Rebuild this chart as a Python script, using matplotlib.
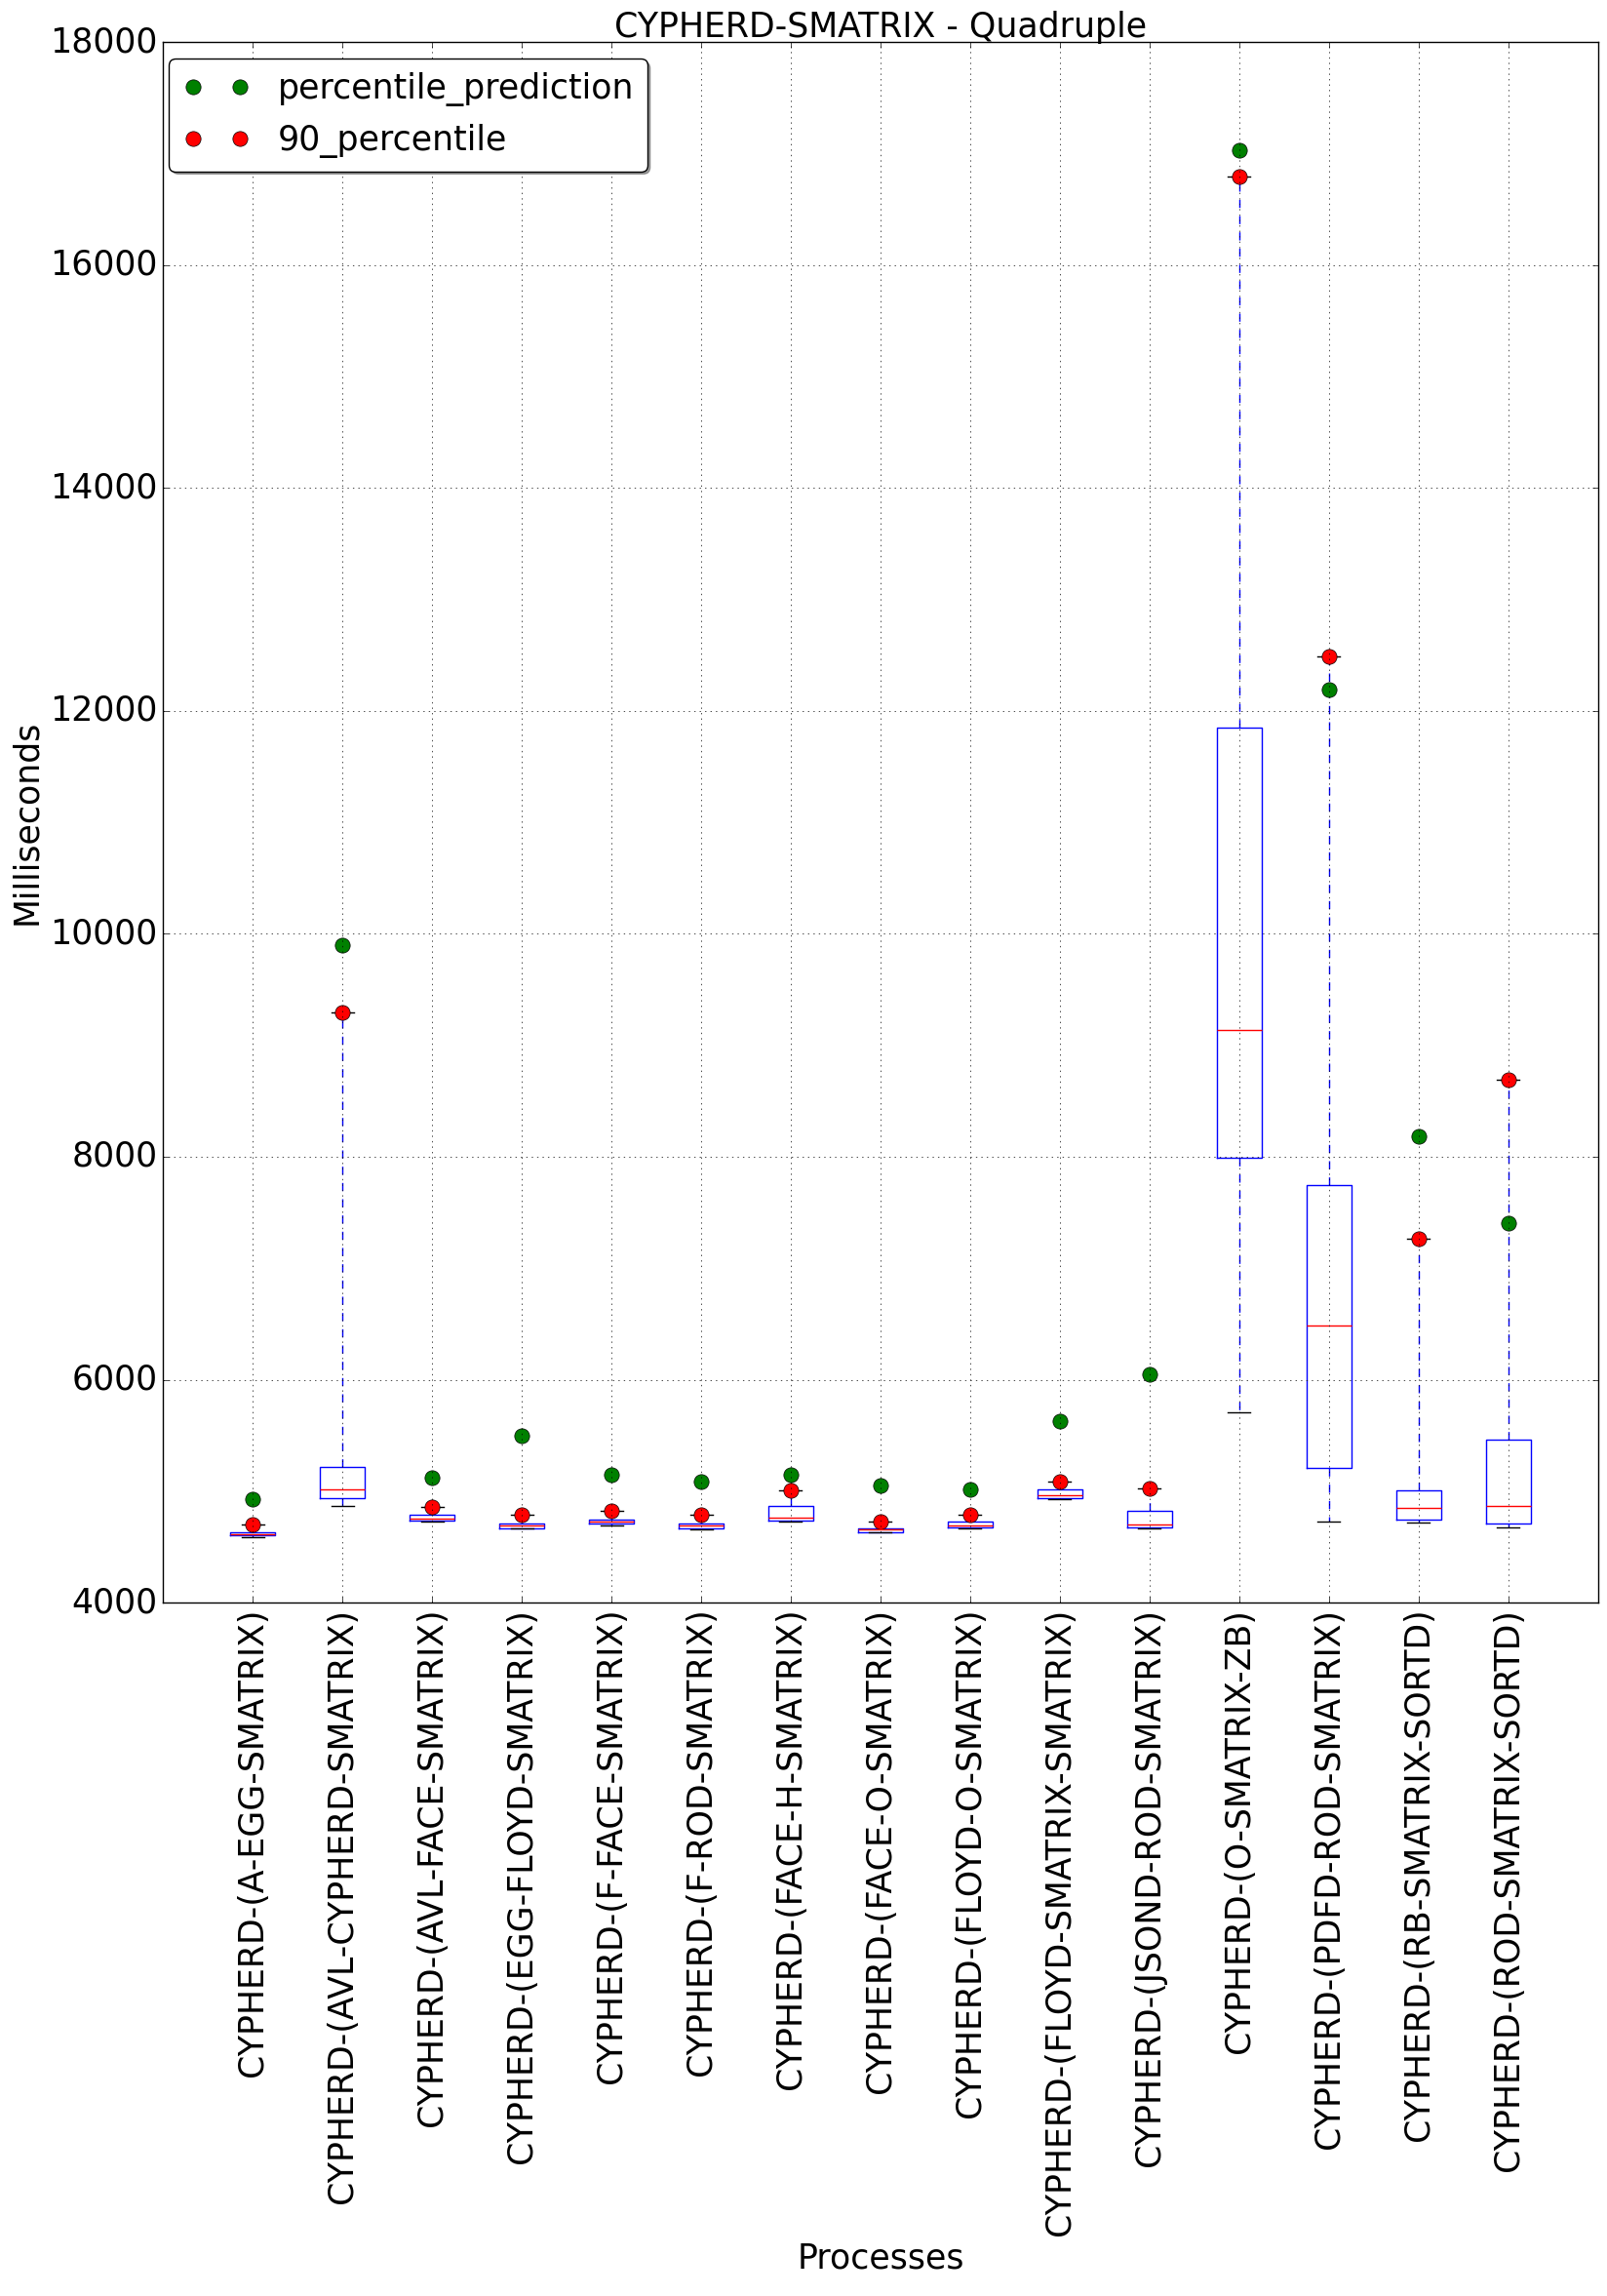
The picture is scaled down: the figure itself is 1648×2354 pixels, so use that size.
import numpy as np
import matplotlib
matplotlib.use("Agg")
import matplotlib.pyplot as plt

plt.style.use('classic')

processes = ["CYPHERD-(A-EGG-SMATRIX)", "CYPHERD-(AVL-CYPHERD-SMATRIX)", "CYPHERD-(AVL-FACE-SMATRIX)",
             "CYPHERD-(EGG-FLOYD-SMATRIX)", "CYPHERD-(F-FACE-SMATRIX)", "CYPHERD-(F-ROD-SMATRIX)",
             "CYPHERD-(FACE-H-SMATRIX)", "CYPHERD-(FACE-O-SMATRIX)", "CYPHERD-(FLOYD-O-SMATRIX)",
             "CYPHERD-(FLOYD-SMATRIX-SMATRIX)", "CYPHERD-(JSOND-ROD-SMATRIX)", "CYPHERD-(O-SMATRIX-ZB)",
             "CYPHERD-(PDFD-ROD-SMATRIX)", "CYPHERD-(RB-SMATRIX-SORTD)", "CYPHERD-(ROD-SMATRIX-SORTD)"]

whislo = [4589, 4863, 4723, 4662, 4694, 4653, 4723, 4627, 4665, 4924, 4662, 5708, 4723, 4714, 4671]
q1 = [4601, 4938, 4737, 4667, 4711, 4667, 4735, 4632, 4676, 4938, 4676, 7992, 5204, 4741, 4706]
med = [4612, 5020, 4755, 4688, 4726, 4688, 4758, 4653, 4688, 4959, 4702, 9141, 6483, 4846, 4863]
q3 = [4630, 5215, 4790, 4711, 4743, 4711, 4863, 4667, 4726, 5014, 4819, 11852, 7746, 5003, 5466]

# 90th percentile (also the upper whisker) and the predicted percentile
p90 = [4697, 9293, 4854, 4784, 4822, 4784, 5003, 4726, 4784, 5090, 5023, 16791, 12488, 7262, 8687]
prediction = [4924, 9896, 5119, 5493, 5146, 5090, 5143, 5047, 5012, 5624, 6049, 17027, 12191, 8184, 7402]

stats = []
for i in range(len(processes)):
    stats.append({'whislo': whislo[i], 'q1': q1[i], 'med': med[i], 'q3': q3[i],
                  'whishi': p90[i], 'fliers': []})

pos = np.arange(1, len(processes) + 1)

fig = plt.figure(figsize=(16.49, 23.54), dpi=100, facecolor='white')
ax = fig.add_axes([0.1013, 0.302, 0.8926, 0.6797])
ax.bxp(stats, positions=pos, widths=0.5, showfliers=False)
ax.plot(pos, prediction, 'o', color='green', markersize=11, label='percentile_prediction')
ax.plot(pos, p90, 'o', color='red', markersize=11, label='90_percentile')

ax.set_xlim(0, len(processes) + 1)
ax.set_ylim(4000, 18000)
ax.set_yticks(np.arange(4000, 18001, 2000))
ax.set_xticks(pos)
ax.set_xticklabels(processes, rotation=90, fontsize=25)
ax.tick_params(axis='y', labelsize=25)
ax.grid(True)
ax.set_title("CYPHERD-SMATRIX - Quadruple", fontsize=25, pad=4)
ax.set_xlabel("Processes", fontsize=25)
ax.set_ylabel("Milliseconds", fontsize=25)
ax.legend(loc='upper left', bbox_to_anchor=(-0.0075, 1.0), numpoints=2, fontsize=25,
          fancybox=True, shadow=True)

fig.savefig("out.png", dpi=100, facecolor='white')
